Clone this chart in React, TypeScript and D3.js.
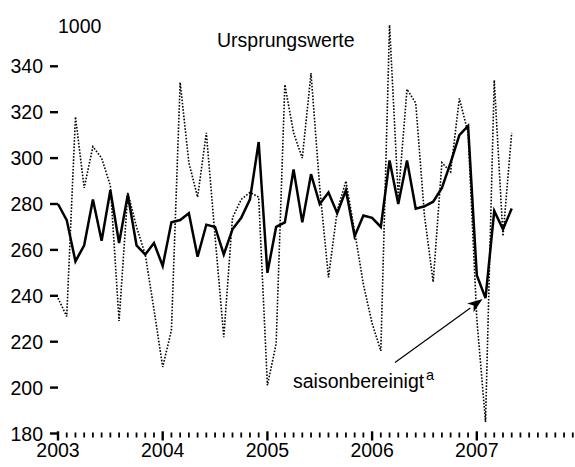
import React from "react";
import * as d3 from "d3";

const years = ["2003", "2004", "2005", "2006", "2007"];
const yTicks = [180, 200, 220, 240, 260, 280, 300, 320, 340];

// monthly values, Jan 2003 – May 2007
const adjusted = [
  280, 273, 255, 262, 282, 264, 286, 263, 284, 262, 258, 263,
  253, 272, 273, 276, 257, 271, 270, 258, 269, 274, 282, 307,
  250, 270, 272, 295, 272, 293, 280, 285, 276, 286, 266, 275,
  274, 270, 299, 280, 299, 278, 279, 281, 287, 298, 310, 314,
  249, 239, 277, 269, 278,
];
const original = [
  239, 231, 318, 287, 305, 300, 288, 229, 285, 270, 258, 234,
  209, 225, 333, 298, 283, 311, 266, 222, 274, 282, 285, 283,
  201, 219, 332, 311, 300, 337, 287, 248, 277, 290, 268, 245,
  228, 216, 358, 283, 330, 324, 275, 246, 298, 294, 326, 311,
  230, 185, 334, 266, 311,
];

const W = 575;
const H = 467;
const FONT = "'Liberation Sans', Arial, sans-serif";
const FS = 19.5;

export default function App() {
  const x = d3.scaleLinear().domain([0, 60]).range([58, 581.5]);
  const y = d3.scaleLinear().domain([180, 340]).range([433.5, 66.3]);

  const line = d3
    .line<number>()
    .x((_, i) => x(i))
    .y((d) => y(d));

  const monthTicks = d3.range(0, 60);
  const axisY = y(180) - 1;

  // arrow
  const tipX = x(49) - 3;
  const tipY = y(adjusted[49]) + 1;
  const startX = 395;
  const startY = 362.5;
  const ang = Math.atan2(tipY - startY, tipX - startX);
  const headLen = 15;
  const headW = 5.5;
  const bx = tipX - headLen * Math.cos(ang);
  const by = tipY - headLen * Math.sin(ang);
  const px = -Math.sin(ang);
  const py = Math.cos(ang);
  const head = [
    [tipX, tipY],
    [bx + px * headW, by + py * headW],
    [bx + 4 * Math.cos(ang), by + 4 * Math.sin(ang)],
    [bx - px * headW, by - py * headW],
  ]
    .map((p) => p.join(","))
    .join(" ");

  return (
    <svg
      width={W}
      height={H}
      style={{ position: "absolute", left: 0, top: 0, display: "block", background: "#fff" }}
      fontFamily={FONT}
    >
      <rect width={W} height={H} fill="#fff" />

      <text x={58} y={33} fontSize={FS} fill="#000">1000</text>
      <text x={217} y={46.5} fontSize={FS} fill="#000">Ursprungswerte</text>

      {/* y axis ticks */}
      {yTicks.map((t) => (
        <g key={t}>
          <line x1={50} x2={58} y1={y(t)} y2={y(t)} stroke="#000" strokeWidth={2.4} />
          <text x={43} y={y(t)} dy="0.36em" textAnchor="end" fontSize={FS} fill="#000">
            {t}
          </text>
        </g>
      ))}

      {/* x axis ticks */}
      {monthTicks.map((m) => {
        const major = m % 12 === 0;
        return (
          <line
            key={m}
            x1={x(m)}
            x2={x(m)}
            y1={major ? axisY - 1.2 : axisY}
            y2={major ? axisY + 8 : axisY + 5}
            stroke="#000"
            strokeWidth={major ? 2.4 : 1.8}
          />
        );
      })}
      {years.map((yr, i) => (
        <text key={yr} x={x(i * 12)} y={457} textAnchor="middle" fontSize={FS} fill="#000">
          {yr}
        </text>
      ))}

      {/* series */}
      <path
        d={line(original) || ""}
        fill="none"
        stroke="#000"
        strokeWidth={1.6}
        strokeDasharray="1.6 1.6"
      />
      <path d={line(adjusted) || ""} fill="none" stroke="#000" strokeWidth={2.5} />

      {/* annotation */}
      <line x1={startX} y1={startY} x2={bx} y2={by} stroke="#000" strokeWidth={1.2} />
      <polygon points={head} fill="#000" />
      <text x={293} y={387.5} fontSize={FS} fill="#000">
        saisonbereinigt
      </text>
      <text x={426} y={380} fontSize={14.5} fill="#000">a</text>
    </svg>
  );
}
